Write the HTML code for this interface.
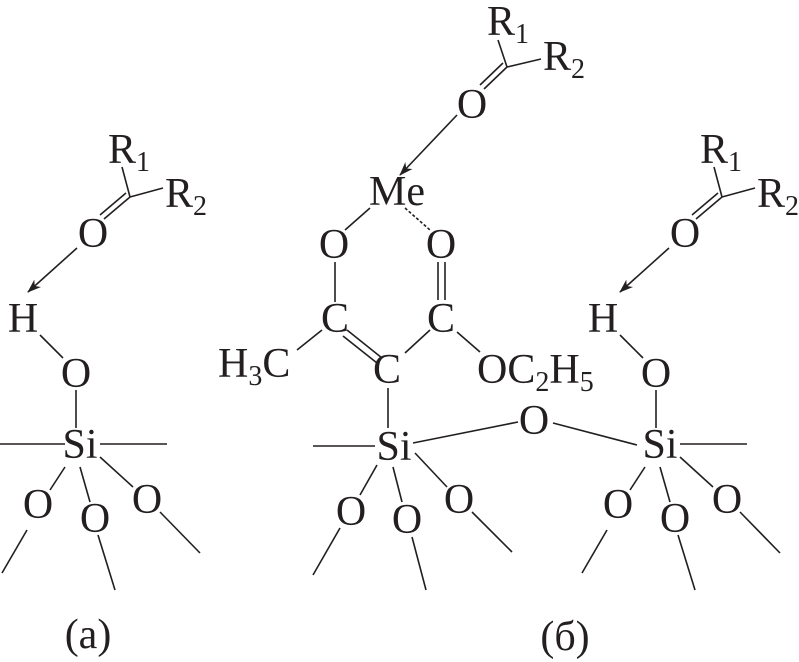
<!DOCTYPE html>
<html><head><meta charset="utf-8"><style>
html,body{margin:0;padding:0;background:#fff;}
svg{display:block;}
text{font-family:"Liberation Serif",serif;font-size:42px;fill:#231f20;}
.s{font-size:28px;}
line{stroke:#231f20;stroke-width:1.6;}
</style></head><body>
<svg width="799" height="662" viewBox="0 0 799 662" xmlns="http://www.w3.org/2000/svg">
<defs>
<marker id="ar" markerWidth="14" markerHeight="10" refX="13" refY="5" orient="auto" markerUnits="userSpaceOnUse">
<path d="M0,0 L14,5 L0,10 L4,5 Z" fill="#231f20"/>
</marker>
</defs>

<!-- carbonyl group template, left -->
<g id="carb">
<text x="108" y="163">R<tspan class="s" dy="8">1</tspan></text>
<text x="165" y="207">R<tspan class="s" dy="8">2</tspan></text>
<line x1="122" y1="167" x2="130" y2="197"/>
<line x1="130" y1="197" x2="163" y2="188"/>
<line x1="130" y1="197" x2="104" y2="219"/>
<line x1="126" y1="193" x2="100" y2="215"/>
<text x="93" y="247" text-anchor="middle">O</text>
<line x1="77" y1="248" x2="28" y2="292" marker-end="url(#ar)"/>
</g>

<!-- left silanol -->
<g id="sil">
<text x="23" y="332" text-anchor="middle">H</text>
<line x1="40" y1="335" x2="63" y2="358"/>
<text x="76" y="387" text-anchor="middle">O</text>
<line x1="76" y1="390" x2="76" y2="428"/>
<text x="80" y="458" text-anchor="middle">Si</text>
<line x1="100" y1="444" x2="167" y2="444"/>
<line x1="65" y1="467" x2="50" y2="490"/>
<text x="38" y="518" text-anchor="middle">O</text>
<line x1="27" y1="530" x2="2" y2="573"/>
<line x1="80" y1="467" x2="90" y2="502"/>
<text x="95" y="532" text-anchor="middle">O</text>
<line x1="98" y1="535" x2="115" y2="590"/>
<line x1="100" y1="457" x2="133" y2="487"/>
<text x="147" y="513" text-anchor="middle">O</text>
<line x1="160" y1="512" x2="200" y2="553"/>
</g>
<line x1="0" y1="444" x2="65" y2="444"/>
<text x="88" y="648" text-anchor="middle">(a)</text>

<!-- right -->
<use href="#carb" transform="translate(592,0)"/>
<use href="#sil" transform="translate(580,0)"/>

<!-- middle -->
<text x="487" y="35">R<tspan class="s" dy="8">1</tspan></text>
<text x="543" y="70">R<tspan class="s" dy="8">2</tspan></text>
<line x1="498" y1="40" x2="507" y2="67"/>
<line x1="507" y1="67" x2="541" y2="59"/>
<line x1="507" y1="67" x2="484" y2="89"/>
<line x1="503" y1="63" x2="480" y2="85"/>
<text x="472" y="118" text-anchor="middle">O</text>
<line x1="457" y1="115" x2="400" y2="175" marker-end="url(#ar)"/>
<text x="397" y="205" text-anchor="middle">Me</text>
<line x1="370" y1="208" x2="345" y2="230"/>
<line x1="405" y1="208" x2="430" y2="230" style="stroke-dasharray:3,2"/>
<text x="334" y="258" text-anchor="middle">O</text>
<text x="441" y="258" text-anchor="middle">O</text>
<line x1="335" y1="262" x2="335" y2="302"/>
<line x1="438" y1="262" x2="438" y2="300"/>
<line x1="445" y1="262" x2="445" y2="300"/>
<text x="335" y="332" text-anchor="middle">C</text>
<text x="441" y="332" text-anchor="middle">C</text>
<text x="218" y="377">H<tspan class="s" dy="8">3</tspan><tspan dy="-8">C</tspan></text>
<line x1="322" y1="330" x2="297" y2="350"/>
<line x1="347" y1="330" x2="382" y2="358"/>
<line x1="343" y1="336" x2="377" y2="363"/>
<text x="387" y="383" text-anchor="middle">C</text>
<line x1="430" y1="330" x2="405" y2="353"/>
<line x1="457" y1="332" x2="480" y2="352"/>
<text x="477" y="383">OC<tspan class="s" dy="8">2</tspan><tspan dy="-8">H</tspan><tspan class="s" dy="8">5</tspan></text>
<line x1="388" y1="388" x2="388" y2="428"/>
<text x="394" y="460" text-anchor="middle">Si</text>
<line x1="313" y1="446" x2="375" y2="446"/>
<line x1="413" y1="443" x2="518" y2="422"/>
<text x="534" y="434" text-anchor="middle">O</text>
<line x1="553" y1="423" x2="637" y2="445"/>
<line x1="377" y1="465" x2="360" y2="495"/>
<text x="351" y="525" text-anchor="middle">O</text>
<line x1="340" y1="528" x2="313" y2="575"/>
<line x1="393" y1="467" x2="402" y2="502"/>
<text x="407" y="533" text-anchor="middle">O</text>
<line x1="412" y1="537" x2="426" y2="590"/>
<line x1="415" y1="453" x2="447" y2="487"/>
<text x="459" y="513" text-anchor="middle">O</text>
<line x1="472" y1="512" x2="512" y2="552"/>
<text x="565" y="650" text-anchor="middle">(б)</text>
</svg>
</body></html>
